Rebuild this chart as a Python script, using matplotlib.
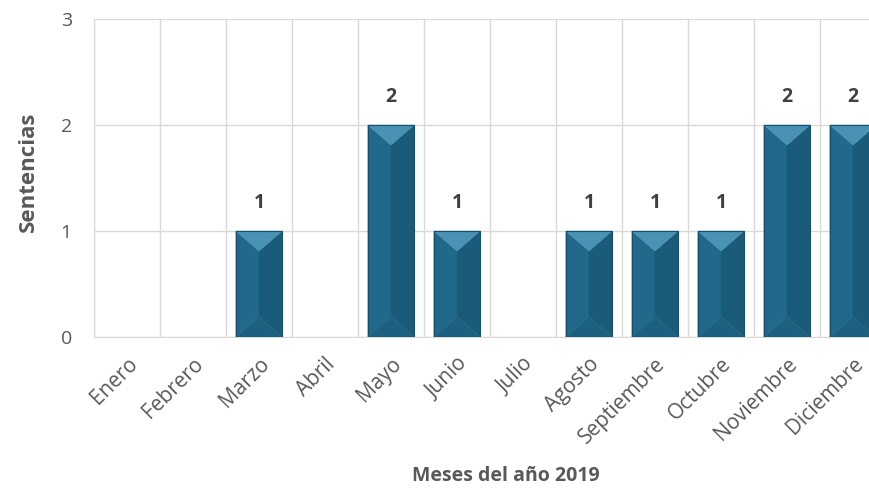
import numpy as np
import matplotlib.pyplot as plt
from matplotlib.patches import Polygon

plt.rcParams['font.family'] = ['Open Sans', 'DejaVu Sans']

meses = ['Enero', 'Febrero', 'Marzo', 'Abril', 'Mayo', 'Junio', 'Julio',
         'Agosto', 'Septiembre', 'Octubre', 'Noviembre', 'Diciembre']
sentencias = [0, 0, 1, 0, 2, 1, 0, 1, 1, 1, 2, 2]

# bevel colours (top, left, right, bottom facets)
c_top = '#4a92b3'
c_left = '#20698a'
c_right = '#1a5b7a'
c_bottom = '#1c6080'
c_edge = '#164f6a'

fig = plt.figure(figsize=(8.7, 4.88), dpi=100)
ax = fig.add_axes([94 / 870, 151 / 488, 792 / 870, 318 / 488])

x = np.arange(len(meses))
w = 0.7
ax.set_xlim(-0.5, len(meses) - 0.5)
ax.set_ylim(0, 3)

# bevel depth in data units for y (~20 px of 106 px per unit)
bev = 20 / 106
for xi, v in zip(x, sentencias):
    if v <= 0:
        continue
    l, r, c = xi - w / 2, xi + w / 2, xi
    d = min(bev, v / 2)
    ax.add_patch(Polygon([(l, 0), (l, v), (c, v - d), (c, d)], closed=True,
                         fc=c_left, ec=c_left, lw=0.3, zorder=3))
    ax.add_patch(Polygon([(r, 0), (r, v), (c, v - d), (c, d)], closed=True,
                         fc=c_right, ec=c_right, lw=0.3, zorder=3))
    ax.add_patch(Polygon([(l, v), (r, v), (c, v - d)], closed=True,
                         fc=c_top, ec=c_top, lw=0.3, zorder=4))
    ax.add_patch(Polygon([(l, 0), (r, 0), (c, d)], closed=True,
                         fc=c_bottom, ec=c_bottom, lw=0.3, zorder=4))
    ax.add_patch(Polygon([(l, 0), (l, v), (r, v), (r, 0)], closed=True,
                         fc='none', ec=c_edge, lw=0.8, zorder=5))
    ax.text(xi, v + 0.17, str(v), ha='center', va='bottom', fontsize=14,
            fontweight='bold', color='#404040', zorder=6)

ax.set_yticks([0, 1, 2, 3])
ax.set_xticks(x)
ax.set_xticklabels(meses, rotation=45, ha='right', rotation_mode='anchor')
ax.set_xticks(np.arange(-0.5, len(meses), 1), minor=True)
ax.tick_params(axis='both', which='both', length=0, labelcolor='#595959')
ax.tick_params(axis='x', labelsize=15, pad=12)
ax.tick_params(axis='y', labelsize=14, pad=16)

ax.grid(axis='y', which='major', color='#d9d9d9', lw=1, zorder=0)
ax.grid(axis='x', which='minor', color='#d9d9d9', lw=1, zorder=0)
for s in ['top', 'right']:
    ax.spines[s].set_visible(False)
ax.spines['left'].set_color('#d9d9d9')
ax.spines['bottom'].set_color('#d9d9d9')

fig.text(28 / 870, 1 - 172 / 488, 'Sentencias', rotation=90, ha='center',
         va='center', fontsize=16, fontweight='bold', color='#595959')
fig.text(506 / 870, 1 - 476 / 488, 'Meses del año 2019', ha='center',
         va='center', fontsize=14, fontweight='bold', color='#595959')

fig.savefig('out.png', dpi=100)
